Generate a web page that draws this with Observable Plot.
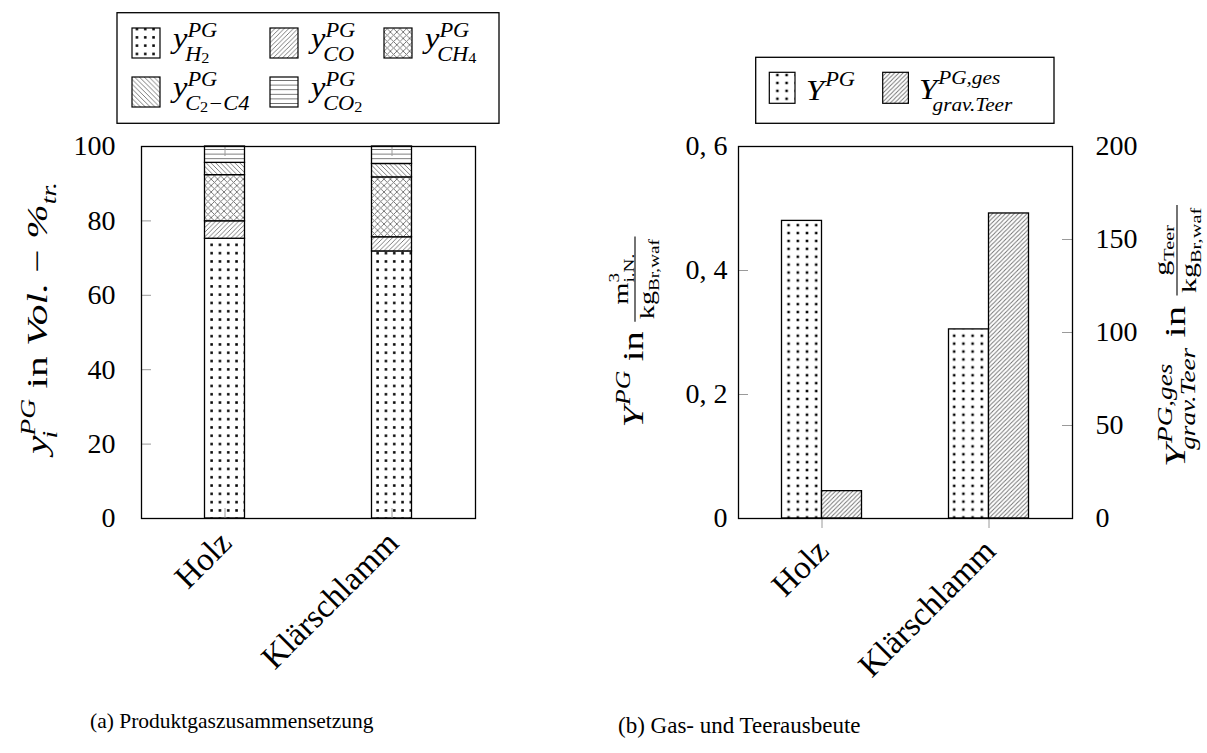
<!DOCTYPE html>
<html>
<head>
<meta charset="utf-8">
<script src="https://cdn.jsdelivr.net/npm/d3@7"></script>
<script src="https://cdn.jsdelivr.net/npm/@observablehq/plot@0.6"></script>
<style>
  html, body { margin: 0; padding: 0; background: #fff; }
  #page { position: relative; width: 1207px; height: 753px; overflow: hidden; font-family: "Liberation Serif", serif; }
  #page svg { position: absolute; }
</style>
</head>
<body>
<div id="page"></div>
<script>
// ---- (a) product gas composition, vol-% (dry) ----
const feedstocks = ["Holz", "Klärschlamm"];
const gasKeys = ["H2", "CO", "CH4", "C2C4", "CO2"];
const gasH2 = [75.2, 71.8];
const gasCO = [4.7, 3.8];
const gasCH4 = [12.4, 16.1];
const gasC2C4 = [3.3, 3.6];
const gasCO2 = [4.4, 4.7];
const compTicks = [0, 20, 40, 60, 80, 100];

// ---- (b) gas yield (m³ i.N./kg) and gravimetric tar yield (g/kg) ----
const gasYield = [0.48, 0.305];
const tarYield = [14.7, 164];
const gasYieldTicks = [0, 0.2, 0.4, 0.6];
const tarYieldTicks = [0, 50, 100, 150, 200];

const serif = "Liberation Serif, serif";
const tickGray = "#9a9a9a";
const page = document.getElementById("page");

// ---- fill patterns shared by bars and legend swatches ----
const defs = d3.select(page).append("svg")
  .attr("width", 0).attr("height", 0).style("left", 0).style("top", 0)
  .append("defs");

function dotPattern(id, w, h, r) {
  const p = defs.append("pattern").attr("id", id)
    .attr("patternUnits", "userSpaceOnUse").attr("width", w).attr("height", h);
  p.append("rect").attr("width", w).attr("height", h).attr("fill", "white");
  p.append("rect").attr("x", w / 2 - r).attr("y", h / 2 - r)
    .attr("width", 2 * r).attr("height", 2 * r).attr("fill", "black");
}
function linePattern(id, s, d) {
  const p = defs.append("pattern").attr("id", id)
    .attr("patternUnits", "userSpaceOnUse").attr("width", s).attr("height", s);
  p.append("rect").attr("width", s).attr("height", s).attr("fill", "white");
  p.append("path").attr("d", d).attr("stroke", "#6e6e6e").attr("stroke-width", 0.9).attr("fill", "none");
}
dotPattern("pat-H2", 8.3, 8.3, 1.25);
dotPattern("pat-gasYield", 9.2, 7.9, 1.25);
const sNE = 4.6, sNW = 4.8, sX = 6.4, sH = 4.6;
const neLines = s => `M0,${s}L${s},0M${-1},1L1,${-1}M${s - 1},${s + 1}L${s + 1},${s - 1}`;
const nwLines = s => `M0,0L${s},${s}M${-1},${s - 1}L1,${s + 1}M${s - 1},${-1}L${s + 1},1`;
linePattern("pat-CO", sNE, neLines(sNE));
linePattern("pat-tarYield", 4.3, neLines(4.3));
linePattern("pat-C2C4", sNW, nwLines(sNW));
linePattern("pat-CH4", sX, neLines(sX) + nwLines(sX));
linePattern("pat-CO2", sH, `M0,${sH / 2}H${sH}`);

// ---- (a) stacked composition bars ----
const compSeries = [gasH2, gasCO, gasCH4, gasC2C4, gasCO2];
const compRows = feedstocks.flatMap((f, i) =>
  gasKeys.map((k, j) => ({feedstock: f, gas: k, value: compSeries[j][i]})));

const frameW = 334, frameH = 372;

const plotA = Plot.plot({
  width: 600, height: 700,
  marginLeft: 141, marginRight: 125, marginTop: 146, marginBottom: 182,
  style: {fontFamily: serif, background: "transparent", color: "black", overflow: "visible"},
  x: {type: "band", domain: feedstocks, padding: 0},
  y: {domain: [0, 100]},
  color: {type: "ordinal", domain: gasKeys, range: gasKeys.map(k => `url(#pat-${k})`)},
  marks: [
    Plot.barY(compRows, {x: "feedstock", y: "value", fill: "gas", stroke: "black", strokeWidth: 1.3,
      insetLeft: 63.5, insetRight: 63.5}),
    Plot.gridY(compTicks, {stroke: tickGray, strokeOpacity: 1, strokeWidth: 1, insetRight: frameW - 10}),
    Plot.gridX(feedstocks, {stroke: tickGray, strokeOpacity: 1, strokeWidth: 1, insetTop: frameH - 10}),
    Plot.gridX(feedstocks, {stroke: tickGray, strokeOpacity: 1, strokeWidth: 1, insetBottom: frameH - 10}),
    Plot.axisY(compTicks, {tickSize: 0, tickPadding: 26, fontSize: 28, fontFamily: serif, label: null}),
    Plot.axisX({tickSize: 0, tickRotate: -45, textAnchor: "end", lineAnchor: "middle",
      fontSize: 33, fontFamily: serif, tickPadding: 19, dx: 1, label: null}),
    Plot.frame({stroke: "black", strokeWidth: 1.3})
  ]
});
plotA.style.left = "0px";
plotA.style.top = "0px";
page.appendChild(plotA);

// ---- (b) gas and tar yield, tar drawn against the right axis ----
const tarToGas = gasYieldTicks[gasYieldTicks.length - 1] / tarYieldTicks[tarYieldTicks.length - 1];
const yieldRows = feedstocks.map((f, i) => ({feedstock: f, gas: gasYield[i], tar: tarYield[i]}));

const plotB = Plot.plot({
  width: 607, height: 700,
  marginLeft: 138, marginRight: 135, marginTop: 146, marginBottom: 182,
  style: {fontFamily: serif, background: "transparent", color: "black", overflow: "visible"},
  x: {type: "band", domain: feedstocks, padding: 0},
  y: {domain: [0, gasYieldTicks[gasYieldTicks.length - 1]]},
  color: {type: "ordinal", domain: ["gasYield", "tarYield"], range: ["url(#pat-gasYield)", "url(#pat-tarYield)"]},
  marks: [
    Plot.barY(yieldRows, {x: "feedstock", y: "gas", fill: () => "gasYield", stroke: "black", strokeWidth: 1.3,
      insetLeft: 43.5, insetRight: 83.5}),
    Plot.barY(yieldRows, {x: "feedstock", y: d => d.tar * tarToGas, fill: () => "tarYield", stroke: "black", strokeWidth: 1.3,
      insetLeft: 83.5, insetRight: 43.5}),
    Plot.gridY(gasYieldTicks, {stroke: tickGray, strokeOpacity: 1, strokeWidth: 1, insetRight: frameW - 10}),
    Plot.gridY(tarYieldTicks.map(v => v * tarToGas), {stroke: tickGray, strokeOpacity: 1, strokeWidth: 1, insetLeft: frameW - 10}),
    Plot.axisY(gasYieldTicks, {anchor: "left", tickSize: 0, tickPadding: 11, fontSize: 28, fontFamily: serif, label: null,
      tickFormat: v => v === 0 ? "0" : String(v).replace(".", ", ")}),
    Plot.axisY(tarYieldTicks.map(v => v * tarToGas), {anchor: "right", tickSize: 0, tickPadding: 23, fontSize: 28,
      fontFamily: serif, label: null, tickFormat: v => String(Math.round(v / tarToGas))}),
    Plot.axisX({tickSize: 10, stroke: tickGray, tickFormat: () => "", label: null}),
    Plot.axisX({tickSize: 0, tickRotate: -45, textAnchor: "end", lineAnchor: "middle",
      fontSize: 33, fontFamily: serif, tickPadding: 27, dx: 1, label: null}),
    Plot.frame({stroke: "black", strokeWidth: 1.3})
  ]
});
plotB.style.left = "600px";
plotB.style.top = "0px";
page.appendChild(plotB);

// ---- overlay: legends, axis titles, captions ----
const over = d3.select(page).append("svg")
  .attr("width", 1207).attr("height", 753)
  .style("left", 0).style("top", 0)
  .attr("font-family", serif).attr("fill", "black");

// lays out a run of formula atoms on one baseline; returns the end x
function run(g, x, items) {
  for (const it of items) {
    if (it.stack) {
      let w = 0;
      for (const part of it.stack) w = Math.max(w, run(g, x + (part.kern || 0), part.items) - x);
      x += w + (it.sp || 0);
    } else if (it.frac) {
      const gN = g.append("g"), gD = g.append("g");
      const wn = run(gN, 0, it.frac[0]), wd = run(gD, 0, it.frac[1]);
      const w = Math.max(wn, wd) + 4;
      gN.attr("transform", `translate(${x + (w - wn) / 2},${it.bar - it.nGap})`);
      gD.attr("transform", `translate(${x + (w - wd) / 2},${it.bar + it.dGap})`);
      g.append("line").attr("x1", x).attr("x2", x + w).attr("y1", it.bar).attr("y2", it.bar)
        .attr("stroke", "black").attr("stroke-width", 1.1);
      x += w;
    } else {
      const t = g.append("text").attr("x", x).attr("y", it.b || 0)
        .attr("font-size", it.s).attr("font-style", it.it ? "italic" : "normal")
        .style("white-space", "pre").text(it.t);
      x += t.node().getComputedTextLength() + (it.sp || 0);
    }
  }
  return x;
}
const A = (t, s, it, b, sp) => ({t, s, it, b, sp});
const scripts = (sup, sub, kern = 0) => ({stack: [{items: sup, kern: 0}, {items: sub, kern}]});
const widen = 1.12;

// legend (a)
over.append("rect").attr("x", 117).attr("y", 12.7).attr("width", 382).attr("height", 110.6)
  .attr("fill", "white").attr("stroke", "black").attr("stroke-width", 1.3);
const S = 20, SS = 14.5;
const supPG = [A("PG", S, true, -11)];
const legendA = [
  {key: "H2", x: 132, y: 28, sub: [A("H", S, true, 12.5), A("2", SS, false, 15.5)]},
  {key: "CO", x: 270, y: 28, sub: [A("CO", S, true, 12.5)]},
  {key: "CH4", x: 384, y: 28, sub: [A("CH", S, true, 12.5), A("4", SS, false, 15.5)]},
  {key: "C2C4", x: 132, y: 77, sub: [A("C", S, true, 12.5), A("2", SS, false, 15.5), A("−C4", S, true, 12.5)]},
  {key: "CO2", x: 270, y: 77, sub: [A("CO", S, true, 12.5), A("2", SS, false, 15.5)]}
];
for (const e of legendA) {
  over.append("rect").attr("x", e.x).attr("y", e.y).attr("width", 28).attr("height", 30)
    .attr("fill", `url(#pat-${e.key})`).attr("stroke", "black").attr("stroke-width", 1.2);
  const g = over.append("g").attr("transform", `translate(${e.x + 41},${e.y + 20}) scale(${widen},1)`);
  run(g, 0, [A("y", 29, true), scripts(supPG, e.sub, -2)]);
}

// legend (b)
over.append("rect").attr("x", 755.7).attr("y", 57.3).attr("width", 298.3).attr("height", 66)
  .attr("fill", "white").attr("stroke", "black").attr("stroke-width", 1.3);
over.append("rect").attr("x", 769.3).attr("y", 72.3).attr("width", 25.7).attr("height", 31)
  .attr("fill", "url(#pat-gasYield)").attr("stroke", "black").attr("stroke-width", 1.2);
over.append("rect").attr("x", 882.7).attr("y", 72.3).attr("width", 25.7).attr("height", 31)
  .attr("fill", "url(#pat-tarYield)").attr("stroke", "black").attr("stroke-width", 1.2);
run(over.append("g").attr("transform", `translate(806,100) scale(${widen},1)`),
  0, [A("Y", 29, true, 0, 1), A("PG", S, true, -14)]);
run(over.append("g").attr("transform", `translate(919,99) scale(${widen},1)`),
  0, [A("Y", 29, true, 0, 1), scripts([A("PG,ges", 19, true, -15)], [A("grav.Teer", 19, true, 11.5)], -5)]);

// rotated axis titles: centred on (cx, cy), baseline at cx, stretched to a given length
function vTitle(cx, cy, length, items) {
  const g = over.append("g").attr("transform", `translate(${cx},${cy}) rotate(-90)`);
  const inner = g.append("g");
  const w = run(inner, 0, items);
  inner.attr("transform", `scale(${length / w},1) translate(${-w / 2},0)`);
}
vTitle(47, 318, 272, [
  A("y", 30, true), scripts([A("PG", 20, true, -12)], [A("i", 20, true, 10)], -2),
  A(" in ", 30, false), A("Vol.", 30, true), A(" − ", 30, false), A("%", 30, true),
  {stack: [{items: [A("tr.", 20, true, 9)]}]}
]);
const unitKg = [A("kg", 22, false), A("Br,waf", 15, false, 5)];
vTitle(643, 332, 191, [
  A("Y", 30, true, 0, 1), A("PG", 20, true, -13),
  A(" in ", 30, false),
  {frac: [[A("m", 22, false), scripts([A("3", 15, false, -9)], [A("i.N.", 15, false, 6)])], unitKg],
    bar: -8, nGap: 7, dGap: 19}
]);
vTitle(1185, 336, 262, [
  A("Y", 30, true, 0, 1), scripts([A("PG,ges", 20, true, -13)], [A("grav.Teer", 20, true, 10)], -5),
  A(" in ", 30, false),
  {frac: [[A("g", 22, false), A("Teer", 15, false, 5)], unitKg], bar: -8, nGap: 8, dGap: 19}
]);

// sub-figure captions
over.append("text").attr("x", 90).attr("y", 728).attr("font-size", 21.5)
  .text("(a) Produktgaszusammensetzung");
over.append("text").attr("x", 618).attr("y", 733).attr("font-size", 23)
  .text("(b) Gas- und Teerausbeute");
</script>
</body>
</html>
